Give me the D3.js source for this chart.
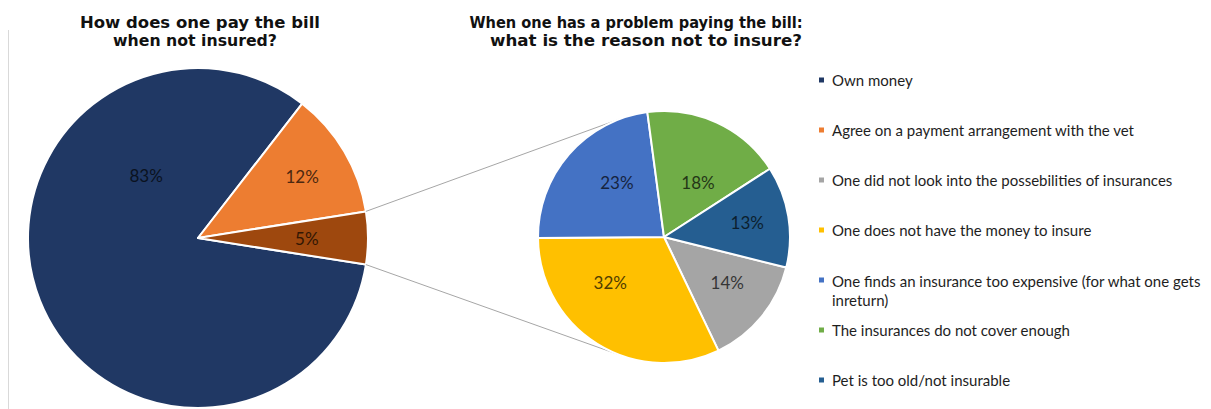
<!DOCTYPE html>
<html>
<head>
<meta charset="utf-8">
<script src="https://cdn.jsdelivr.net/npm/d3@7"></script>
<style>
  html, body { margin: 0; padding: 0; background: #fff; }
  svg { display: block; }
</style>
</head>
<body>
<svg id="chart" width="1211" height="409"></svg>
<script>
// ---------- data ----------
const leftCategories = ["Own money", "Agree on a payment arrangement with the vet", "Problem paying the bill"];
const leftValues = [83, 12, 5];
const leftColors = ["#203864", "#ED7D31", "#9E480E"];

const rightCategories = [
  "One did not look into the possebilities of insurances",
  "One does not have the money to insure",
  "One finds an insurance too expensive (for what one gets inreturn)",
  "The insurances do not cover enough",
  "Pet is too old/not insurable"
];
const rightValues = [14, 32, 23, 18, 13];
const rightColors = ["#A5A5A5", "#FFC000", "#4472C4", "#70AD47", "#255E91"];

const leftTitle = ["How does one pay the bill", "when not insured?"];
const rightTitle = ["When one has a problem paying the bill:", "what is the reason not to insure?"];

// ---------- layout ----------
const svg = d3.select("#chart");
const deg = Math.PI / 180;

const L = { cx: 198, cy: 238, r: 170 };
const R = { cx: 664, cy: 237, r: 126, start: 104 * deg };

// label placement (angle in degrees clockwise from 12 o'clock, radius fraction)
const leftLabelPlacement = [[-39.5, 0.48], [59.6, 0.71], [90, 0.64]];
const rightLabelPlacement = [[126, 0.62], [229.6, 0.56], [-41, 0.57], [32, 0.51], [80.4, 0.67]];

// left frame line
svg.append("line").attr("x1", 8.5).attr("x2", 8.5).attr("y1", 30).attr("y2", 409)
  .attr("stroke", "#d9d9d9").attr("stroke-width", 1);

// ---------- left pie ----------
const leftTotal = d3.sum(leftValues);
const leftStart = Math.PI / 2 + (leftValues[2] / leftTotal) * Math.PI; // last slice centered at 3 o'clock
const leftPie = d3.pie().sort(null).value(d => d)
  .startAngle(leftStart).endAngle(leftStart + 2 * Math.PI);
const leftArcs = leftPie(leftValues);
const leftArc = d3.arc().innerRadius(0).outerRadius(L.r);

const gL = svg.append("g").attr("transform", `translate(${L.cx},${L.cy})`);
gL.selectAll("path").data(leftArcs).join("path")
  .attr("d", leftArc)
  .attr("fill", (d, i) => leftColors[i])
  .attr("stroke", "#fff").attr("stroke-width", 2).attr("stroke-linejoin", "round");

// ---------- right pie ----------
const rightPie = d3.pie().sort(null).value(d => d)
  .startAngle(R.start).endAngle(R.start + 2 * Math.PI);
const rightArcs = rightPie(rightValues);
const rightArc = d3.arc().innerRadius(0).outerRadius(R.r);

// ---------- connector lines ----------
const exploded = leftArcs[2];
function polar(c, angle, rad) { return [c.cx + rad * Math.sin(angle), c.cy - rad * Math.cos(angle)]; }
const pTop = polar(L, exploded.startAngle, L.r);
const pBot = polar(L, exploded.endAngle, L.r);
function tangent(p, upper) {
  const dx = p[0] - R.cx, dy = p[1] - R.cy;
  const d = Math.hypot(dx, dy);
  const th = Math.atan2(dy, dx);
  const a = Math.acos(R.r / d);
  const t = upper ? th + a : th - a;
  return [R.cx + R.r * Math.cos(t), R.cy + R.r * Math.sin(t)];
}
const tTop = tangent(pTop, true);
const tBot = tangent(pBot, false);
svg.append("line").attr("x1", pTop[0]).attr("y1", pTop[1]).attr("x2", tTop[0]).attr("y2", tTop[1])
  .attr("stroke", "#A6A6A6").attr("stroke-width", 1);
svg.append("line").attr("x1", pBot[0]).attr("y1", pBot[1]).attr("x2", tBot[0]).attr("y2", tBot[1])
  .attr("stroke", "#A6A6A6").attr("stroke-width", 1);

const gR = svg.append("g").attr("transform", `translate(${R.cx},${R.cy})`);
gR.selectAll("path").data(rightArcs).join("path")
  .attr("d", rightArc)
  .attr("fill", (d, i) => rightColors[i])
  .attr("stroke", "#fff").attr("stroke-width", 2).attr("stroke-linejoin", "round");

// ---------- data labels ----------
const labelFont = "Lato, 'Noto Sans', sans-serif";
function addLabels(g, arcs, colors, placement, radius) {
  g.selectAll("text.lbl").data(arcs).join("text")
    .attr("class", "lbl")
    .attr("x", (d, i) => radius * placement[i][1] * Math.sin(placement[i][0] * deg))
    .attr("y", (d, i) => -radius * placement[i][1] * Math.cos(placement[i][0] * deg))
    .attr("text-anchor", "middle")
    .attr("dominant-baseline", "central")
    .attr("font-family", labelFont)
    .attr("font-size", 17)
    .attr("fill", (d, i) => d3.color(colors[i]).darker(3.2).formatHex())
    .text(d => d3.format(".0f")(d.value) + "%");
}
addLabels(gL, leftArcs, leftColors, leftLabelPlacement, L.r);
addLabels(gR, rightArcs, rightColors, rightLabelPlacement, R.r);

// ---------- titles ----------
const titleFont = "'DejaVu Sans', Verdana, sans-serif";
function addTitle(lines, cx, widths) {
  lines.forEach((t, i) => {
    svg.append("text")
      .attr("x", cx[i]).attr("y", 28 + i * 18)
      .attr("text-anchor", "middle")
      .attr("font-family", titleFont)
      .attr("font-weight", "bold")
      .attr("font-size", 16)
      .attr("textLength", widths[i])
      .attr("lengthAdjust", "spacingAndGlyphs")
      .attr("fill", "#111")
      .text(t);
  });
}
addTitle(leftTitle, [200, 195], [240, 164]);
addTitle(rightTitle, [636, 646], [333, 312]);

// ---------- legend ----------
const legendItems = [
  { label: leftCategories[0], color: leftColors[0] },
  { label: leftCategories[1], color: leftColors[1] },
  ...rightCategories.map((c, i) => ({ label: c, color: rightColors[i] }))
];
const legendX = 819, legendTop = 80, legendStep = 50, legendMaxW = 382;
const legend = svg.append("g");
legendItems.forEach((it, i) => {
  const y = legendTop + i * legendStep;
  legend.append("rect").attr("x", legendX).attr("y", y - 2.5).attr("width", 5).attr("height", 5)
    .attr("fill", it.color);
  const text = legend.append("text")
    .attr("x", legendX + 13).attr("y", y)
    .attr("dominant-baseline", "central")
    .attr("font-family", labelFont)
    .attr("font-size", 15)
    .attr("fill", "#1e1e1e");
  // word wrap
  const words = it.label.split(" ");
  let line = [];
  let tspan = text.append("tspan").attr("x", legendX + 13).attr("dy", 0);
  let lineNo = 0;
  words.forEach(w => {
    line.push(w);
    tspan.text(line.join(" "));
    if (tspan.node().getComputedTextLength() > legendMaxW && line.length > 1) {
      line.pop();
      tspan.text(line.join(" "));
      line = [w];
      lineNo++;
      tspan = text.append("tspan").attr("x", legendX + 13).attr("dy", 19).text(w);
    }
  });
  if (lineNo > 0) text.attr("y", y + 1);
});
</script>
</body>
</html>
